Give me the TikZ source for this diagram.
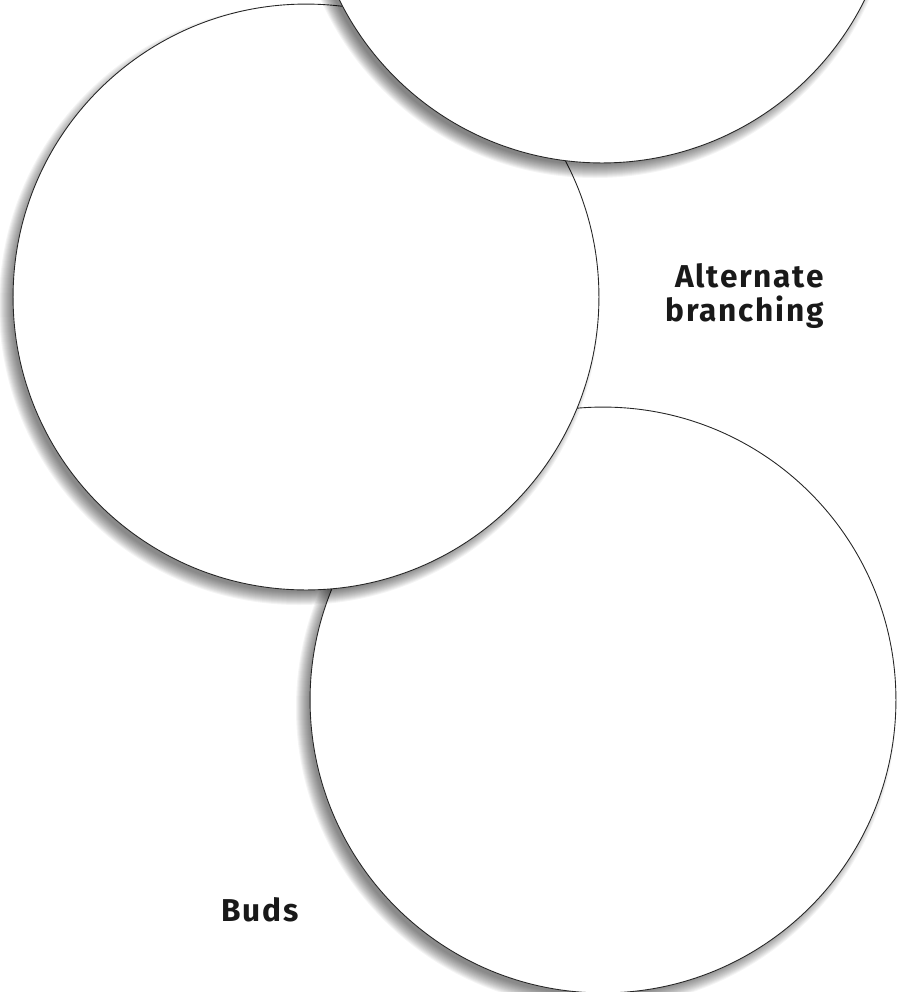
\documentclass[tikz,border=0pt]{standalone}
\usepackage{fontspec}
\setmainfont{Fira Sans}
\newfontfamily\labelfont[LetterSpace=5.5]{Fira Sans}

\begin{document}
\begin{tikzpicture}[
    x=0.02cm, y=-0.02cm,
    disc/.style={circle, draw=black!85, line width=0.5pt, fill=white, minimum size=11.72cm, inner sep=0pt},
    softshade/.style={fill=black, opacity=0.045},
    caption/.style={font=\labelfont\bfseries\fontsize{18}{19.3}\selectfont, text=black!90, inner sep=0pt}
]
\useasboundingbox (0,0) rectangle (897,992);
\clip (0,0) rectangle (897,992);

% ===== Circles with soft shadow (back to front) =====
\foreach \cx/\cy/\nm in {603/700/buds, 306/297/stem, 602/-130/crown} {
    \foreach \k in {1,...,14}
        \fill[softshade] (\cx-7,\cy+8) circle[radius=301-\k];
    \node[disc] (\nm) at (\cx,\cy) {};
}

% ===== Labels =====
\node[caption, align=right, anchor=north east] (alt) at (824,263) {Alternate\\branching};
\node[caption, anchor=base west] (budlabel) at (221,921) {Buds};
\end{tikzpicture}
\end{document}
